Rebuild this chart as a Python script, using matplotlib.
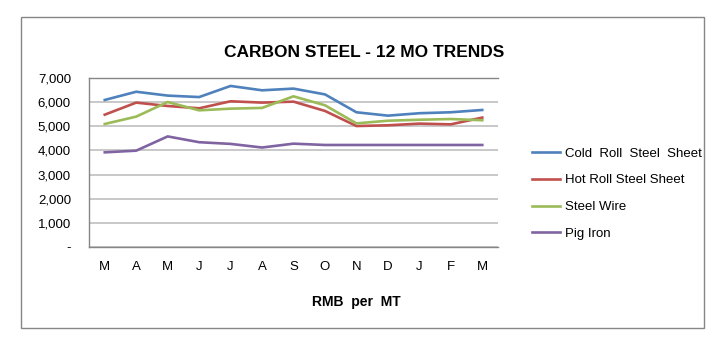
import matplotlib.pyplot as plt
from matplotlib.patches import Rectangle

# Data (RMB per MT)
months = ['M', 'A', 'M', 'J', 'J', 'A', 'S', 'O', 'N', 'D', 'J', 'F', 'M']
cold_roll = [6090, 6430, 6270, 6210, 6670, 6490, 6560, 6320, 5580, 5440, 5540, 5580, 5675]
hot_roll = [5480, 5980, 5840, 5745, 6035, 5980, 6020, 5635, 5010, 5040, 5110, 5080, 5360]
steel_wire = [5095, 5400, 6005, 5660, 5730, 5760, 6240, 5870, 5120, 5230, 5270, 5300, 5250]
pig_iron = [3920, 3990, 4580, 4340, 4270, 4120, 4280, 4225, 4225, 4225, 4225, 4225, 4225]

plt.rcParams['font.family'] = ['Liberation Sans', 'DejaVu Sans']

fig = plt.figure(figsize=(7.25, 3.44), dpi=100)
ax = fig.add_axes([0.1228, 0.282, 0.5641, 0.4913])

x = range(len(months))
ax.plot(x, cold_roll, color='#4F81BD', lw=1.9, label='Cold  Roll  Steel  Sheet')
ax.plot(x, hot_roll, color='#C0504D', lw=1.9, label='Hot Roll Steel Sheet')
ax.plot(x, steel_wire, color='#9BBB59', lw=1.9, label='Steel Wire')
ax.plot(x, pig_iron, color='#8064A2', lw=1.9, label='Pig Iron')

ax.set_xlim(-0.5, len(months) - 0.5)
ax.set_ylim(0, 7000)
ax.set_xticks(list(x))
ax.set_xticklabels(months)
ax.set_yticks(range(0, 7001, 1000))
ax.set_yticklabels(['-'] + [f'{v:,}' for v in range(1000, 7001, 1000)])
ax.tick_params(length=0, labelsize=9.5, pad=10)
ax.tick_params(axis='y', pad=13)

ax.grid(axis='y', color='#BFBFBF', lw=1.2)
ax.set_axisbelow(True)
ax.spines['right'].set_visible(False)
for side in ['left', 'bottom', 'top']:
    ax.spines[side].set_color('#868686')
    ax.spines[side].set_linewidth(1)

fig.text(0.502, 0.848, 'CARBON STEEL - 12 MO TRENDS', ha='center', va='center',
         fontsize=12.5, fontweight='bold')
fig.text(0.491, 0.122, 'RMB  per  MT', ha='center', va='center',
         fontsize=10, fontweight='bold')

fig.legend(loc='upper left', bbox_to_anchor=(0.718, 0.606), frameon=False,
           fontsize=9.5, handlelength=2.1, handletextpad=0.4, labelspacing=1.1)

fig.patches.append(Rectangle((0.029, 0.0465), 0.942, 0.904, transform=fig.transFigure,
                             fill=False, edgecolor='#868686', lw=1))

plt.savefig('out.png', dpi=100)
